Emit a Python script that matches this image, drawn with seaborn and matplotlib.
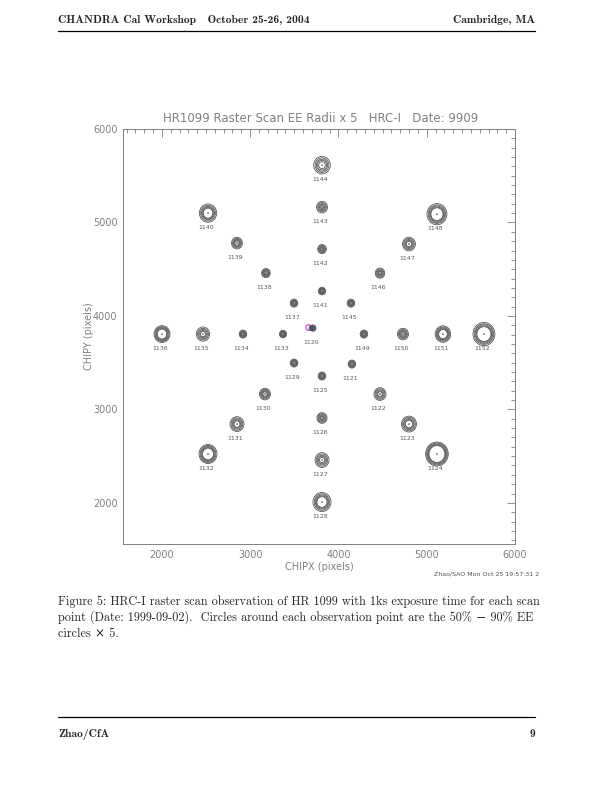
import matplotlib
matplotlib.use("Agg")
import matplotlib.pyplot as plt
from matplotlib.patches import Circle
from matplotlib.lines import Line2D
from matplotlib.ticker import MultipleLocator
import pandas as pd
import seaborn as sns

# scan points (obsid, CHIPX, CHIPY)
obsid = [1120, 1121, 1122, 1123, 1124, 1125, 1126, 1127, 1128, 1129, 1130,
         1131, 1132, 1133, 1134, 1135, 1136, 1137, 1138, 1139, 1140, 1141,
         1142, 1143, 1144, 1145, 1146, 1147, 1148, 1149, 1150, 1151, 1152]
chipx = [3712, 4153, 4471, 4799, 5116, 3814, 3814, 3814, 3814, 3497, 3168,
         2851, 2523, 3372, 2919, 2466, 2002, 3497, 3179, 2851, 2523, 3814,
         3814, 3814, 3814, 4142, 4471, 4799, 5116, 4289, 4731, 5184, 5648]
chipy = [3870, 3485, 3164, 2843, 2523, 3357, 2908, 2458, 2009, 3496, 3164,
         2843, 2523, 3806, 3806, 3806, 3806, 4137, 4458, 4779, 5100, 4266,
         4715, 5164, 5613, 4137, 4458, 4769, 5089, 3806, 3806, 3806, 3806]

# encircled energy radii x 5 (pixels)
ee50 = [11, 14, 25, 40, 90, 14, 17, 28, 57, 14, 23, 34, 62, 14, 15, 28, 53,
        14, 15, 23, 53, 14, 14, 17, 37, 14, 17, 28, 68, 14, 20, 49, 79]
ee60 = [16, 21, 34, 49, 98, 21, 26, 40, 66, 21, 32, 43, 70, 20, 21, 38, 61,
        21, 23, 32, 62, 20, 22, 28, 52, 21, 25, 38, 77, 21, 30, 57, 88]
ee70 = [21, 28, 45, 60, 107, 28, 36, 52, 76, 28, 41, 54, 80, 26, 28, 50, 70,
        28, 31, 41, 72, 27, 30, 38, 64, 28, 34, 49, 88, 28, 40, 66, 99]
ee80 = [27, 35, 56, 72, 117, 35, 46, 65, 88, 35, 51, 66, 90, 33, 35, 62, 79,
        35, 40, 51, 84, 33, 39, 49, 78, 35, 44, 60, 99, 35, 50, 76, 110]
ee90 = [34, 43, 68, 85, 128, 43, 57, 79, 102, 43, 62, 79, 102, 40, 43, 76, 90,
        43, 49, 62, 98, 41, 49, 62, 94, 43, 54, 73, 113, 43, 62, 88, 124]

# aimpoint markers near 1120
aim_x = [3662, 3690]
aim_y = [3876, 3868]
aim_r = [30, 22]
aim_c = ['#e040c0', '#4060e0']

GRAY = '#808080'
RING = '#4a4a4a'

df = pd.DataFrame({'obsid': obsid, 'x': chipx, 'y': chipy,
                   'ee50': ee50, 'ee60': ee60, 'ee70': ee70,
                   'ee80': ee80, 'ee90': ee90})

sns.set_theme(style='white')
plt.rcParams['font.family'] = ['DejaVu Sans']

fig = plt.figure(figsize=(6.12, 7.92), dpi=100)
ax = fig.add_axes([123 / 612, 1 - 544 / 792, 392 / 612, 415 / 792])

for xa, ya, ra, ca in zip(aim_x, aim_y, aim_r, aim_c):
    ax.add_patch(Circle((xa, ya), ra, fill=False, ec=ca, lw=0.9))

for _, row in df.iterrows():
    for col in ['ee50', 'ee60', 'ee70', 'ee80', 'ee90']:
        ax.add_patch(Circle((row['x'], row['y']), row[col], fill=False,
                            ec=RING, lw=0.55))
    ax.annotate(str(row['obsid']), (row['x'], row['y']),
                xytext=(-1.5, -10.5), textcoords='offset points',
                ha='center', va='center', fontsize=4.5, color='#5a5a5a')

sns.scatterplot(data=df, x='x', y='y', s=1.5, color='#5a5a5a',
                edgecolor='none', ax=ax, legend=False)

ax.set_xlim(1560, 6000)
ax.set_ylim(1560, 6000)
ax.xaxis.set_major_locator(MultipleLocator(1000))
ax.yaxis.set_major_locator(MultipleLocator(1000))
ax.xaxis.set_minor_locator(MultipleLocator(100))
ax.yaxis.set_minor_locator(MultipleLocator(100))
ax.tick_params(which='both', direction='in', top=True, right=True,
               color=GRAY, width=0.6, labelsize=7, labelcolor=GRAY)
ax.tick_params(which='major', length=5.5, pad=4)
ax.tick_params(which='minor', length=2.8)
for sp in ax.spines.values():
    sp.set_color(GRAY)
    sp.set_linewidth(0.7)

ax.set_xlabel('CHIPX (pixels)', fontsize=7, color=GRAY, labelpad=2)
ax.set_ylabel('CHIPY (pixels)', fontsize=7, color=GRAY, labelpad=-1)

fig.text(321 / 612, 1 - 118 / 792,
         'HR1099 Raster Scan EE Radii x 5   HRC-I   Date: 9909',
         ha='center', va='center', fontsize=8.5, color=GRAY)
fig.text(539 / 612, 1 - 574 / 792, 'Zhao/SAO Mon Oct 25 19:57:31 2',
         ha='right', va='center', fontsize=4.5, color='#505050')

# page header / footer / caption
L, R = 58 / 612, 535 / 612
bold = ['cmb10', 'DejaVu Serif']
roman = ['cmr10', 'DejaVu Serif']
fig.text(L, 1 - 23 / 792, 'CHANDRA Cal Workshop   October 25-26, 2004',
         ha='left', va='baseline', fontsize=8.3, family=bold)
fig.text(R, 1 - 23 / 792, 'Cambridge, MA', ha='right', va='baseline',
         fontsize=8.3, family=bold)
fig.add_artist(Line2D([L, R], [1 - 31 / 792] * 2, transform=fig.transFigure,
                      color='black', lw=0.9))
fig.add_artist(Line2D([L, R], [1 - 717 / 792] * 2, transform=fig.transFigure,
                      color='black', lw=0.9))
fig.text(L, 1 - 737 / 792, 'Zhao/CfA', ha='left', va='baseline',
         fontsize=8.3, family=bold)
fig.text(R, 1 - 737 / 792, '9', ha='right', va='baseline',
         fontsize=8.3, family=bold)

caption = ['Figure 5: HRC-I raster scan observation of HR 1099 with 1ks exposure time for each scan',
           'point (Date: 1999-09-02).  Circles around each observation point are the 50% \u2212 90% EE',
           'circles \u00d7 5.']
for i, line in enumerate(caption):
    fig.text(L, 1 - (605 + 16 * i) / 792, line, ha='left', va='baseline',
             fontsize=8.8, family=roman)

fig.savefig('out.png', dpi=100)
